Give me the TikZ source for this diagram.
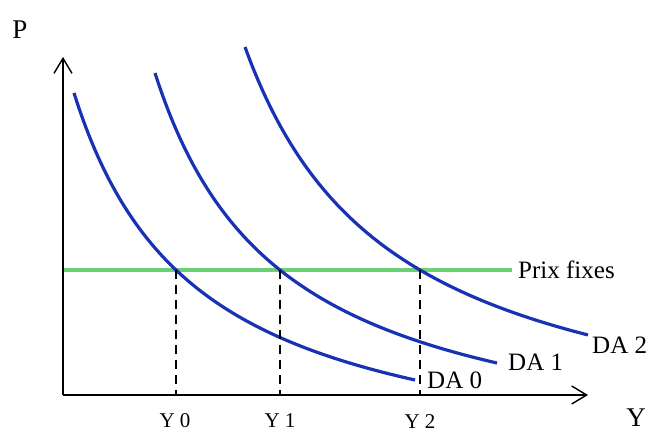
\documentclass[tikz,border=0pt]{standalone}
\usepackage{fontspec}
\setmainfont{Liberation Serif}
\usetikzlibrary{arrows.meta}
\definecolor{curveblue}{RGB}{24,50,180}
\definecolor{prixgreen}{RGB}{105,208,115}
\begin{document}
\begin{tikzpicture}[x=1pt,y=-1pt,
  axis/.style={line width=1.6pt,-{Straight Barb[length=15pt,width=18pt,line width=1.4pt]}},
  da/.style={curveblue,line width=3.2pt},
  fixe/.style={prixgreen,line width=3.2pt},
  guide/.style={line width=1.2pt,dash pattern=on 9pt off 6pt},
  lab/.style={inner sep=0pt,font=\fontsize{25}{25}\selectfont},
  ylab/.style={inner sep=0pt,font=\fontsize{21}{21}\selectfont},
  axlab/.style={inner sep=0pt,font=\fontsize{27}{27}\selectfont}]
\useasboundingbox (0,0) rectangle (654,435);
% axes
\coordinate (O) at (63,395);
\coordinate (ytip) at (63,57);
\coordinate (xtip) at (588,395);
% prix fixes
\coordinate (g0) at (63,270);
\coordinate (g1) at (512,270);
\draw[fixe] (g0) -- (g1);
\node[lab,anchor=west] (prix) at (518,270) {Prix fixes};
% demand curves
\draw[da] plot[domain=74:415,samples=80,smooth] ({\x},{395-(480.85/((\x+49.1)/100)-88.6)});
\draw[da] plot[domain=155:497,samples=80,smooth] ({\x},{395-(508.58/((\x-27.3)/100)-76.3)});
\draw[da] plot[domain=245:588,samples=80,smooth] ({\x},{395-(618.2/((\x-95.5)/100)-65.5)});
\node[lab,anchor=west] (da0) at (427,380) {DA 0};
\node[lab,anchor=west] (da1) at (508,362) {DA 1};
\node[lab,anchor=west] (da2) at (592,345) {DA 2};
% intersections and guides
\coordinate (e0) at (176,270);
\coordinate (e1) at (280,270);
\coordinate (e2) at (420,270);
\coordinate (b0) at (176,395);
\coordinate (b1) at (280,395);
\coordinate (b2) at (420,395);
\draw[guide] (e0) -- (b0);
\draw[guide] (e1) -- (b1);
\draw[guide] (e2) -- (b2);
\draw[axis] (O) -- (ytip);
\draw[axis] (O) -- (xtip);
\node[ylab] (y0) at (175,421) {Y 0};
\node[ylab] (y1) at (280,421) {Y 1};
\node[ylab] (y2) at (420,422) {Y 2};
\node[axlab] (P) at (20,30) {P};
\node[axlab] (Y) at (636,418) {Y};
\end{tikzpicture}
\end{document}
